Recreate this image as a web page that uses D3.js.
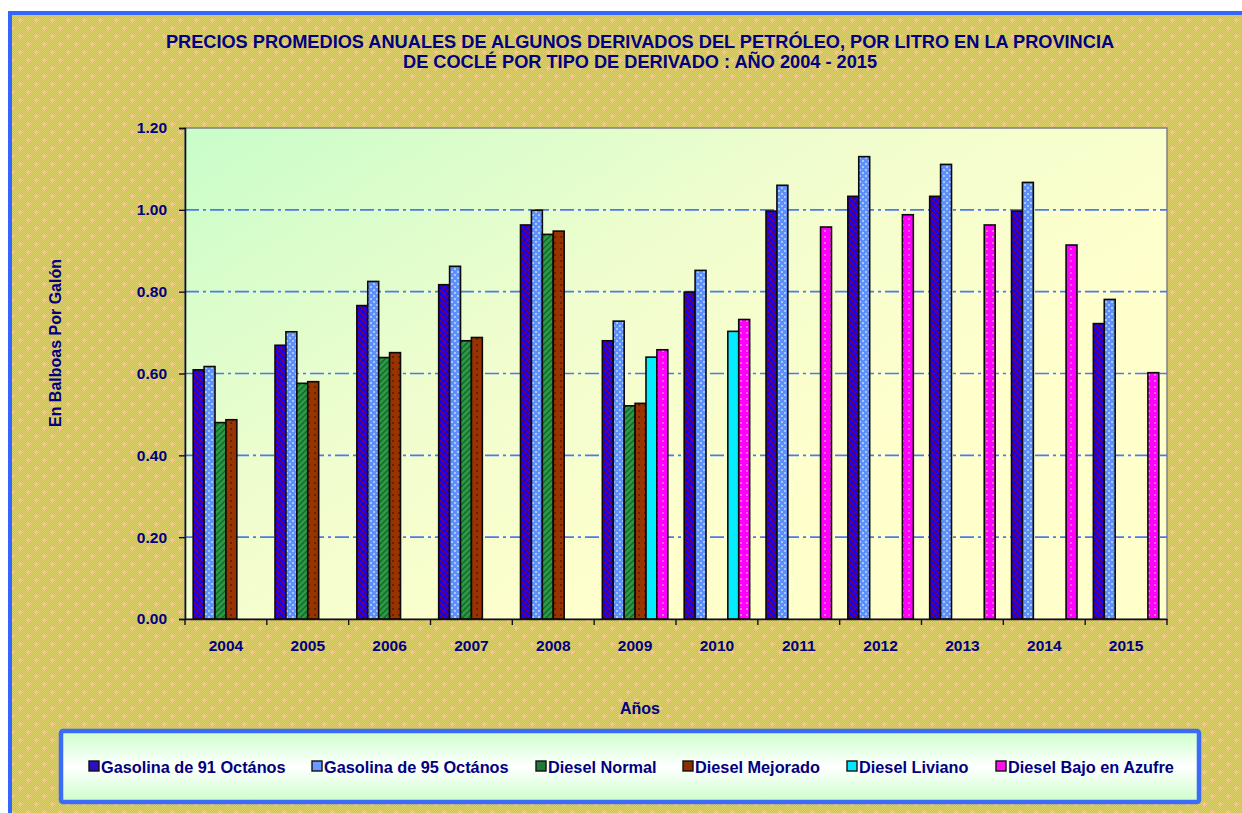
<!DOCTYPE html>
<html>
<head>
<meta charset="utf-8">
<script src="https://cdn.jsdelivr.net/npm/d3@7"></script>
<style>
  body { margin: 0; background: #fff; }
  svg { display: block; }
  text { font-family: "Liberation Sans", Arial, sans-serif; font-weight: bold; fill: #000080; }
</style>
</head>
<body>
<svg id="chart" width="1242" height="813"></svg>
<script>
// datos
const years = ["2004", "2005", "2006", "2007", "2008", "2009", "2010", "2011", "2012", "2013", "2014", "2015"];
const gasolina91 = [0.609, 0.669, 0.766, 0.817, 0.963, 0.680, 0.799, 0.997, 1.033, 1.033, 0.997, 0.722];
const gasolina95 = [0.617, 0.702, 0.825, 0.862, 0.999, 0.728, 0.852, 1.060, 1.130, 1.111, 1.067, 0.781];
const dieselNormal = [0.480, 0.576, 0.639, 0.680, 0.940, 0.521, null, null, null, null, null, null];
const dieselMejorado = [0.487, 0.580, 0.651, 0.688, 0.948, 0.527, null, null, null, null, null, null];
const dieselLiviano = [null, null, null, null, null, 0.640, 0.703, null, null, null, null, null];
const dieselAzufre = [null, null, null, null, null, 0.658, 0.732, 0.958, 0.988, 0.963, 0.914, 0.602];
const seriesNames = ["Gasolina de 91 Octános", "Gasolina de 95 Octános", "Diesel Normal", "Diesel Mejorado", "Diesel Liviano", "Diesel Bajo en Azufre"];
const yTicks = [0, 0.2, 0.4, 0.6, 0.8, 1.0, 1.2];

const series = [gasolina91, gasolina95, dieselNormal, dieselMejorado, dieselLiviano, dieselAzufre]
    .map((vals, i) => ({ key: "s" + i, name: seriesNames[i], values: vals }));

const plot = { left: 185, right: 1167, top: 128, bottom: 619 };

const svg = d3.select("#chart");
const defs = svg.append("defs");

// fondo exterior: verde oliva con cruces rosadas
const bgPat = defs.append("pattern").attr("id", "bgPat")
    .attr("patternUnits", "userSpaceOnUse").attr("width", 16).attr("height", 16);
bgPat.append("rect").attr("width", 16).attr("height", 16).attr("fill", "#cdc355");
const checker = defs.append("pattern").attr("id", "chk")
    .attr("patternUnits", "userSpaceOnUse").attr("width", 2).attr("height", 2);
checker.append("rect").attr("width", 2).attr("height", 2).attr("fill", "#cbc152");
checker.append("rect").attr("width", 1).attr("height", 1).attr("fill", "#dcd16a");
checker.append("rect").attr("x", 1).attr("y", 1).attr("width", 1).attr("height", 1).attr("fill", "#dcd16a");
bgPat.append("rect").attr("width", 16).attr("height", 16).attr("fill", "url(#chk)");
[[4, 4], [12, 12]].forEach(([cx, cy]) => {
    bgPat.append("rect").attr("x", cx - 2).attr("y", cy - 0.5).attr("width", 5).attr("height", 1.4).attr("fill", "#f7c98f");
    bgPat.append("rect").attr("x", cx - 0.5).attr("y", cy - 2).attr("width", 1.4).attr("height", 5).attr("fill", "#f7c98f");
});

// fondo del area de trazado
const plotGrad = defs.append("linearGradient").attr("id", "plotGrad")
    .attr("x1", 0).attr("y1", 0).attr("x2", 0.75).attr("y2", 0.6);
plotGrad.append("stop").attr("offset", "0%").attr("stop-color", "#c8fdca");
plotGrad.append("stop").attr("offset", "55%").attr("stop-color", "#f0fdce");
plotGrad.append("stop").attr("offset", "100%").attr("stop-color", "#ffffcc");

const legGrad = defs.append("linearGradient").attr("id", "legGrad")
    .attr("x1", 0).attr("y1", 0).attr("x2", 0).attr("y2", 1);
legGrad.append("stop").attr("offset", "0%").attr("stop-color", "#ccffcc");
legGrad.append("stop").attr("offset", "50%").attr("stop-color", "#ffffff");
legGrad.append("stop").attr("offset", "100%").attr("stop-color", "#ccffcc");

// tramas de las barras
function barPattern(id, base, draw) {
    const p = defs.append("pattern").attr("id", id)
        .attr("patternUnits", "userSpaceOnUse").attr("width", 6).attr("height", 6);
    p.append("rect").attr("width", 6).attr("height", 6).attr("fill", base);
    draw(p);
}
barPattern("p0", "#1a00f0", p => {
    p.append("path").attr("d", "M0,0L6,6M6,0L0,6").attr("stroke", "#7a0040").attr("stroke-width", 1);
});
barPattern("p1", "#5f8ffb", p => {
    p.append("rect").attr("x", 1).attr("y", 1).attr("width", 2).attr("height", 2).attr("fill", "#a6c8ff");
    p.append("rect").attr("x", 4).attr("y", 4).attr("width", 2).attr("height", 2).attr("fill", "#a6c8ff");
});
barPattern("p2", "#2a9a45", p => {
    p.append("path").attr("d", "M-1,7L7,-1M-4,4L4,-4M2,10L10,2").attr("stroke", "#16642a").attr("stroke-width", 1.4);
});
barPattern("p3", "#993300", p => {
    p.append("circle").attr("cx", 3).attr("cy", 3).attr("r", 0.9).attr("fill", "#4a1a00");
});
barPattern("p4", "#00efff", p => {
    p.append("rect").attr("x", 1).attr("y", 1).attr("width", 2).attr("height", 2).attr("fill", "#2fd8ff");
});
barPattern("p5", "#ff00ff", p => {
    p.append("circle").attr("cx", 3).attr("cy", 3).attr("r", 1).attr("fill", "#ff88c8");
});
const legendColors = ["#2a10c0", "#6a9aff", "#1f7a35", "#8b2e00", "#00e8ff", "#ff10ee"];

// marco exterior
svg.append("rect").attr("x", 10).attr("y", 13).attr("width", 1260).attr("height", 830)
    .attr("fill", "url(#bgPat)").attr("stroke", "#3366ff").attr("stroke-width", 4);

// titulo
svg.append("text").attr("x", 640).attr("y", 48).attr("text-anchor", "middle")
    .style("font-size", "18.2px").text("PRECIOS PROMEDIOS ANUALES DE ALGUNOS DERIVADOS DEL PETRÓLEO, POR LITRO EN LA PROVINCIA");
svg.append("text").attr("x", 640).attr("y", 68).attr("text-anchor", "middle")
    .style("font-size", "18.2px").text("DE COCLÉ POR TIPO DE DERIVADO : AÑO 2004 - 2015");

// escalas
const x = d3.scaleBand().domain(years).range([plot.left, plot.right]);
const gap = x.bandwidth() * 0.2;
const xInner = d3.scaleBand().domain(series.map(s => s.key)).range([gap / 2, x.bandwidth() - gap / 2]);
const y = d3.scaleLinear().domain([0, 1.2]).range([plot.bottom, plot.top]);

// area de trazado
svg.append("rect").attr("x", plot.left).attr("y", plot.top)
    .attr("width", plot.right - plot.left).attr("height", plot.bottom - plot.top)
    .attr("fill", "url(#plotGrad)").attr("stroke", "#808080").attr("stroke-width", 1.5);

// lineas de cuadricula
svg.append("g").selectAll("line").data(yTicks.filter(d => d > 0 && d < 1.2)).join("line")
    .attr("x1", plot.left).attr("x2", plot.right)
    .attr("y1", d => y(d)).attr("y2", d => y(d))
    .attr("stroke", "#4a7af0").attr("stroke-width", 1.6)
    .attr("stroke-dasharray", "14,4,3,4");

// barras
const groups = svg.append("g").selectAll("g").data(series).join("g");
groups.selectAll("rect")
    .data((s, i) => years.map((yr, j) => ({ year: yr, v: s.values[j], key: s.key, i })).filter(d => d.v != null))
    .join("rect")
    .attr("x", d => x(d.year) + xInner(d.key))
    .attr("y", d => y(d.v))
    .attr("width", xInner.bandwidth())
    .attr("height", d => y(0) - y(d.v))
    .attr("fill", d => `url(#p${d.i})`)
    .attr("stroke", "#0a0a0a").attr("stroke-width", 1.6);

// eje Y
const yAxis = svg.append("g").attr("transform", `translate(${plot.left},0)`)
    .call(d3.axisLeft(y).tickValues(yTicks).tickFormat(d3.format(".2f")).tickSize(6).tickPadding(12));
yAxis.select(".domain").attr("stroke", "#111").attr("stroke-width", 1.6);
yAxis.selectAll(".tick line").attr("stroke", "#111").attr("stroke-width", 1.4);
yAxis.selectAll(".tick text").style("font-size", "15.5px").attr("fill", "#000080");

// eje X
const xAxis = svg.append("g").attr("transform", `translate(0,${plot.bottom})`)
    .call(d3.axisBottom(x).tickSize(0).tickPadding(21));
xAxis.select(".domain").attr("stroke", "#111").attr("stroke-width", 1.6);
xAxis.selectAll(".tick text").style("font-size", "15.5px").attr("fill", "#000080");
xAxis.selectAll("line.bound").data(years.map(d => x(d)).concat([plot.right])).join("line")
    .attr("class", "bound")
    .attr("x1", d => d).attr("x2", d => d).attr("y1", 0).attr("y2", 6)
    .attr("stroke", "#111").attr("stroke-width", 1.4);

// titulos de ejes
svg.append("text").attr("transform", "translate(61,343) rotate(-90)").attr("text-anchor", "middle")
    .style("font-size", "16px").text("En Balboas Por Galón");
svg.append("text").attr("x", 640).attr("y", 714).attr("text-anchor", "middle")
    .style("font-size", "16px").text("Años");

// leyenda
svg.append("rect").attr("x", 61).attr("y", 731).attr("width", 1138).attr("height", 71).attr("rx", 2)
    .attr("fill", "url(#legGrad)").attr("stroke", "#3a6cf5").attr("stroke-width", 4.5);
const legendX = [89, 312, 536, 683, 847, 996];
const legend = svg.append("g").selectAll("g").data(series).join("g")
    .attr("transform", (d, i) => `translate(${legendX[i]},761)`);
legend.append("rect").attr("width", 10).attr("height", 10)
    .attr("fill", (d, i) => legendColors[i]).attr("stroke", "#111").attr("stroke-width", 1.4);
legend.append("text").attr("x", 12).attr("y", 12).style("font-size", "16.3px").text(d => d.name);
</script>
</body>
</html>
